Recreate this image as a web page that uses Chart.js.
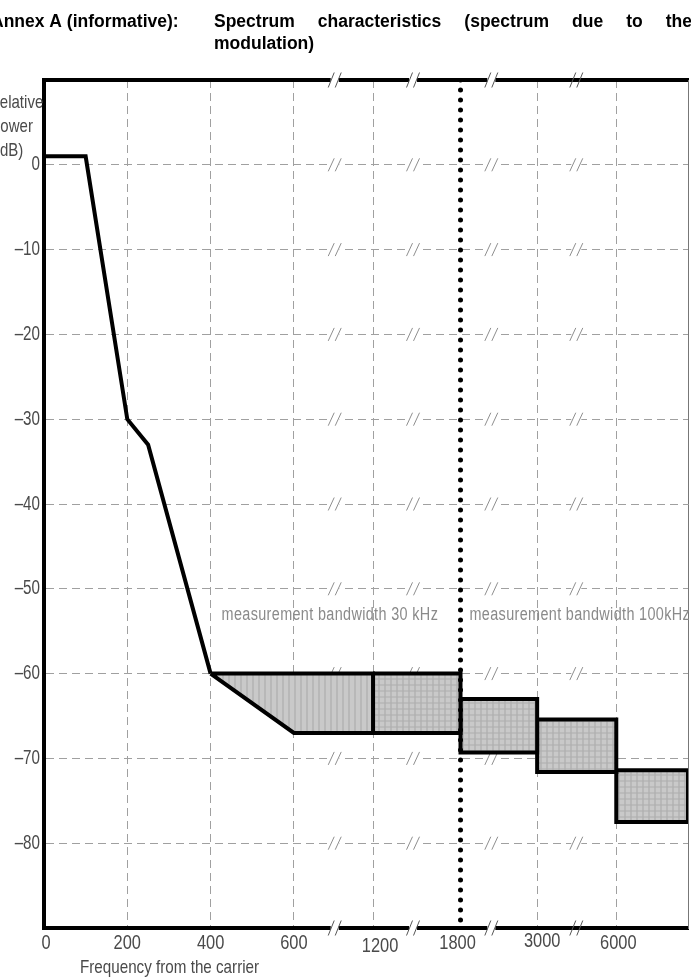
<!DOCTYPE html>
<html><head><meta charset="utf-8">
<script src="https://cdn.jsdelivr.net/npm/chart.js@4.4.1/dist/chart.umd.min.js"></script>
<style>html,body{margin:0;padding:0;background:#fff;overflow:hidden}#wrap{width:691px;height:979px;position:relative}canvas{display:block}</style>
</head><body><div id="wrap"><canvas id="c" width="691" height="979"></canvas></div>
<script>
// ---- data ----
const freqKHz    = [0, 200, 400, 600, 1200, 1800, 3000, 6000];
const freqLabels = ['0', '200', '400', '600', '1200', '1800', '3000', '6000'];
const dbTicks    = [0, -10, -20, -30, -40, -50, -60, -70, -80];
const maskFreq   = [0, 100, 200, 250, 400];
const maskDb     = [1, 1, -30, -33, -60];
const wedgeFreq  = [400, 1200, 1200, 600, 400];
const wedgeDb    = [-60, -60, -67, -67, -60];
const boxFrom    = [1200, 1800, 3000, 6000];
const boxTo      = [1800, 3000, 6000, null];      // null = right edge of chart
const boxTop     = [-60, -63, -65.4, -71.4];
const boxBottom  = [-67, -69.3, -71.6, -77.5];
const boundaryFreq = 1800;
const bandTexts  = ['measurement bandwidth 30 kHz', 'measurement bandwidth 100kHz'];
const bandStart  = [400, 1800];

// ---- broken axis layout (where each labelled frequency sits on the axis) ----
const axisPos  = [0, 1, 2, 3, 3.95, 5.0, 5.92, 6.87];
const X_MAX    = 7.731;
const breakPos = [3.49, 4.43, 5.37, 6.39];
const breakGap = [true, true, true, false];
const labelDx = [2, 0, 0, 0, 7, -3, 5, 2];
const labelDy = [0, 0, 0, 0, 3, 0, -2, 0];
function toPos(f){
  if (f === null) return X_MAX;
  for (let i = 1; i < freqKHz.length; i++){
    if (f <= freqKHz[i]) return axisPos[i-1] + (axisPos[i]-axisPos[i-1])*(f - freqKHz[i-1])/(freqKHz[i]-freqKHz[i-1]);
  }
  return axisPos[axisPos.length-1];
}
const pts = (fs, ds) => fs.map((f,i)=>({x:toPos(f), y:ds[i]}));

const SANS = '"Liberation Sans", Arial, sans-serif';
const canvas = document.getElementById('c');
const ctx0 = canvas.getContext('2d');

function makePattern(plaid){
  const c = document.createElement('canvas'); c.width = 6; c.height = 6;
  const g = c.getContext('2d');
  g.fillStyle = '#c9c9c9'; g.fillRect(0,0,6,6);
  g.fillStyle = '#b8b8b8'; g.fillRect(0,0,2,6);
  if (plaid){ g.fillStyle = 'rgba(174,174,174,0.55)'; g.fillRect(0,0,6,2); }
  return ctx0.createPattern(c, 'repeat');
}
const stripe = makePattern(false);
const plaid = makePattern(true);

const datasets = [];
datasets.push({ data: pts(wedgeFreq, wedgeDb), showLine:true, fill:'shape', backgroundColor: stripe,
  borderColor:'#000', borderWidth:4, pointRadius:0, borderJoinStyle:'miter', order:3 });
for (let i = 0; i < boxFrom.length; i++){
  const f0 = boxFrom[i], f1 = boxTo[i];
  const d = [{x:toPos(f0),y:boxTop[i]},{x:toPos(f1),y:boxTop[i]},{x:toPos(f1),y:boxBottom[i]},{x:toPos(f0),y:boxBottom[i]},{x:toPos(f0),y:boxTop[i]}];
  datasets.push({ data:d, showLine:true, fill:'shape', backgroundColor: plaid, borderColor:'#000', borderWidth:4,
    pointRadius:0, borderJoinStyle:'miter', order:3 });
}
datasets.push({ data: pts(maskFreq, maskDb), showLine:true, fill:false, borderColor:'#000', borderWidth:4,
  pointRadius:0, borderJoinStyle:'miter', order:2 });
datasets.push({ data:[{x:toPos(boundaryFreq),y:10},{x:toPos(boundaryFreq),y:-90}], showLine:true, fill:false,
  borderColor:'#000', borderWidth:5, borderDash:[0,10], borderCapStyle:'round', pointRadius:0, order:1 });

function slashes(ctx, x, y, h, color, lw){
  ctx.strokeStyle = color; ctx.lineWidth = lw; ctx.setLineDash([]);
  [-3.5, 3.5].forEach(d=>{
    ctx.beginPath(); ctx.moveTo(x+d-3, y+h/2); ctx.lineTo(x+d+3, y-h/2); ctx.stroke();
  });
}
// condensed text: horizontal scale sx
function ctext(ctx, txt, x, y, align, sx, spacing){
  ctx.save();
  ctx.translate(x, y); ctx.scale(sx, 1);
  ctx.textAlign = align; ctx.textBaseline = 'middle';
  if (spacing) ctx.letterSpacing = spacing + 'px';
  ctx.fillText(txt, 0, 0);
  ctx.restore();
}

const decor = {
  id:'decor',
  beforeDatasetsDraw(chart){
    const {ctx, scales:{x,y}} = chart;
    ctx.save();
    dbTicks.forEach(v=>{
      const py = y.getPixelForValue(v);
      breakPos.forEach(b=>{
        const px = x.getPixelForValue(b);
        ctx.fillStyle = '#fff'; ctx.fillRect(px-5, py-2, 10, 4);
        slashes(ctx, px, py, 13, '#8e8e8e', 1);
      });
    });
    ctx.restore();
  },
  afterDatasetsDraw(chart){
    const {ctx, chartArea:a, scales:{x}} = chart;
    ctx.save();
    [a.top, a.bottom].forEach(py=>{
      breakPos.forEach((b,i)=>{
        const px = x.getPixelForValue(b);
        if (breakGap[i]){ ctx.fillStyle = '#fff'; ctx.fillRect(px-4, py-3, 8, 6); }
        slashes(ctx, px, py, 15, '#555', 1);
      });
    });
    ctx.restore();
  },
  afterDraw(chart){
    const {ctx, scales:{x,y}} = chart;
    ctx.save();
    // tick labels (from the scales' ticks)
    ctx.fillStyle = '#4a4a4a';
    ctx.font = '20px ' + SANS;
    x.ticks.forEach((t,i)=>{
      ctext(ctx, freqLabels[i], x.getPixelForValue(t.value) + labelDx[i], 943 + labelDy[i], 'center', 0.82);
    });
    y.ticks.forEach(t=>{
      if (!dbTicks.includes(t.value)) return;
      ctext(ctx, String(t.value).replace('-', '\u2013'), 40, y.getPixelForValue(t.value), 'right', 0.76);
    });
    // title
    ctx.fillStyle = '#000'; ctx.textBaseline = 'alphabetic'; ctx.textAlign = 'left';
    ctx.font = 'bold 17.5px ' + SANS;
    ctx.fillText('Annex A (informative):', -9, 27);
    const words = ['Spectrum','characteristics','(spectrum','due','to','the'];
    const left = 214, right = 692;
    const tw = words.reduce((s,w)=>s+ctx.measureText(w).width, 0);
    const gap = (right-left-tw)/(words.length-1);
    let cx = left;
    words.forEach(w=>{ ctx.fillText(w, cx, 27); cx += ctx.measureText(w).width + gap; });
    ctx.fillText('modulation)', 214, 49);
    // y axis title
    ctx.fillStyle = '#4a4a4a';
    ctx.font = '19px ' + SANS;
    ctext(ctx, 'Relative', -11, 103, 'left', 0.79);
    ctext(ctx, 'power', -8, 127, 'left', 0.79);
    ctext(ctx, '(dB)', -5, 151, 'left', 0.79);
    // x axis title
    ctext(ctx, 'Frequency from the carrier', 80, 968, 'left', 0.8);
    // band texts
    ctx.fillStyle = '#8a8a8a';
    ctx.font = '18px ' + SANS;
    const ty = y.getPixelForValue(-53.1);
    ctext(ctx, bandTexts[0], x.getPixelForValue(toPos(bandStart[0])) + 11, ty, 'left', 0.8, 0.45);
    ctext(ctx, bandTexts[1], x.getPixelForValue(toPos(bandStart[1])) + 9, ty, 'left', 0.8, 0.45);
    ctx.restore();
  }
};

new Chart(canvas, {
  type:'scatter',
  data:{ datasets },
  options:{
    responsive:false, animation:false, devicePixelRatio:1,
    layout:{ padding:{ top:80, right:3, left:0, bottom:0 } },
    plugins:{ legend:{display:false}, tooltip:{enabled:false}, title:{display:false} },
    scales:{
      x:{ type:'linear', position:'bottom', min:0, max:X_MAX,
        afterBuildTicks: s => { s.ticks = freqKHz.map(f=>({value:toPos(f)})); },
        afterFit: s => { s.height = 51; },
        ticks:{ display:false, autoSkip:false, maxRotation:0, callback:(v,i)=>freqLabels[i] },
        grid:{ drawTicks:false, lineWidth:1,
          color: c => (c.tick && (c.tick.value === 0 || Math.abs(c.tick.value - toPos(boundaryFreq)) < 1e-6)) ? 'rgba(0,0,0,0)' : '#a0a0a0' },
        border:{ display:true, color:'#000', width:4, dash:[8,5] } },
      xTop:{ type:'linear', position:'top', min:0, max:X_MAX,
        ticks:{display:false}, grid:{display:false, drawTicks:false},
        border:{display:true, color:'#000', width:4}, afterFit: s => { s.height = 0; } },
      y:{ type:'linear', position:'left', min:-90, max:10,
        afterBuildTicks: s => { s.ticks = [10, ...dbTicks, -90].map(v=>({value:v})); },
        afterFit: s => { s.width = 44; },
        ticks:{ display:false },
        grid:{ drawTicks:false, lineWidth:1,
          color: c => (c.tick && dbTicks.includes(c.tick.value)) ? '#a0a0a0' : 'rgba(0,0,0,0)' },
        border:{ display:true, color:'#000', width:4, dash:[8,5] } },
      yRight:{ type:'linear', position:'right', min:-90, max:10,
        ticks:{display:false}, grid:{display:false, drawTicks:false},
        border:{display:true, color:'#777', width:1}, afterFit: s => { s.width = 0; } }
    }
  },
  plugins:[decor]
});
</script>
</body></html>
